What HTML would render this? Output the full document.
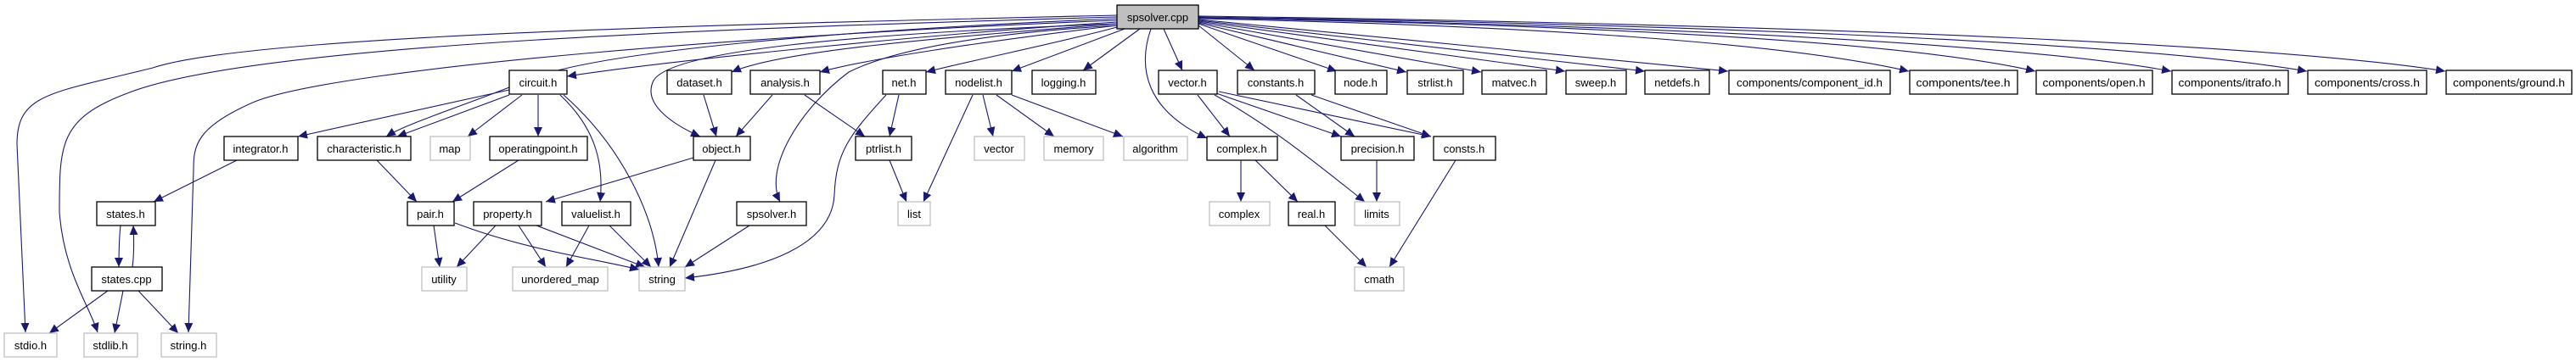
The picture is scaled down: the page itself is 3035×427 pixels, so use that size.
<!DOCTYPE html>
<html><head><meta charset="utf-8"><style>
html,body{margin:0;padding:0;background:#fff;}
svg{display:block}
text{font-family:"Liberation Sans",sans-serif;font-size:13px;fill:#000}
.b{fill:#fff;stroke:#000;stroke-width:1.3}
.g{fill:#fff;stroke:#bfbfbf;stroke-width:1.3}
.e{fill:none;stroke:#191970;stroke-width:1.1;marker-end:url(#a)}
</style></head><body>
<svg width="3035" height="427" viewBox="0 0 3035 427" xmlns="http://www.w3.org/2000/svg">
<defs><marker id="a" markerUnits="userSpaceOnUse" markerWidth="12" markerHeight="10" refX="11" refY="5" orient="auto"><path d="M0,0 L11,5 L0,10 Z" fill="#191970"/></marker></defs>

<!-- edges from spsolver.cpp -->
<path class="e" d="M1316,18 C900,28 300,40 180,80 C60,110 20,110 20,170 L30,392"/>
<path class="e" d="M1316,20 C900,32 300,50 150,110 C70,140 70,170 70,250 C75,320 105,360 115,392"/>
<path class="e" d="M1316,24 C900,40 400,80 300,120 C230,150 228,173 228,200 L222,392"/>
<path class="e" d="M1316,26 C1100,40 800,70 668,90"/>
<path class="e" d="M1316,22 C1000,35 700,60 620,95 C560,120 480,145 455,161"/>
<path class="e" d="M1316,28 C1000,40 790,60 770,95 C755,125 800,150 825,161"/>
<path class="e" d="M1316,28 C1100,45 920,60 862,85"/>
<path class="e" d="M1316,30 C1150,50 1020,70 966,85"/>
<path class="e" d="M1316,30 C1150,40 1050,60 1000,85 C940,130 900,200 919,238"/>
<path class="e" d="M1316,32 C1250,50 1150,70 1091,85"/>
<path class="e" d="M1325,34 L1192,84"/>
<path class="e" d="M1343,34 L1276,83"/>
<path class="e" d="M1356,34 C1340,80 1350,130 1422,163"/>
<path class="e" d="M1371,34 L1393,83"/>
<path class="e" d="M1412,30 L1478,83"/>
<path class="e" d="M1412,28 L1575,84"/>
<path class="e" d="M1412,27 L1657,85"/>
<path class="e" d="M1412,26 L1745,85"/>
<path class="e" d="M1412,25 L1844,84"/>
<path class="e" d="M1412,24 L1938,84"/>
<path class="e" d="M1412,23 L2036,84"/>
<path class="e" d="M1412,22 C1800,30 2100,50 2249,84"/>
<path class="e" d="M1412,21 C1900,30 2250,50 2398,84"/>
<path class="e" d="M1412,21 C2000,30 2400,55 2558,84"/>
<path class="e" d="M1412,20 C2100,30 2550,55 2718,84"/>
<path class="e" d="M1412,19 C2200,30 2700,55 2881,84"/>

<!-- circuit.h -->
<path class="e" d="M600,106 L351,161"/>
<path class="e" d="M600,112 L468,161"/>
<path class="e" d="M615,112 L551,161"/>
<path class="e" d="M634,112 L634,161"/>
<path class="e" d="M660,112 C700,150 712,190 707,238"/>
<path class="e" d="M664,112 C730,170 770,250 776,315"/>

<path class="e" d="M279,189 L181,238"/>
<path class="e" d="M142,266 C140,285 140,300 140,315"/>
<path class="e" d="M156,315 C158,300 158,285 157,266"/>
<path class="e" d="M127,343 L58,393"/>
<path class="e" d="M145,343 L135,393"/>
<path class="e" d="M163,343 L210,393"/>
<path class="e" d="M444,189 L491,238"/>
<path class="e" d="M611,189 L533,238"/>
<path class="e" d="M511,266 L518,315"/>
<path class="e" d="M536,263 C620,295 700,305 753,318"/>
<path class="e" d="M584,266 L538,315"/>
<path class="e" d="M611,266 L643,315"/>
<path class="e" d="M632,266 L760,315"/>
<path class="e" d="M694,266 L667,315"/>
<path class="e" d="M718,266 L767,315"/>
<path class="e" d="M817,186 L643,238"/>
<path class="e" d="M829,112 L844,161"/>
<path class="e" d="M910,112 L867,161"/>
<path class="e" d="M948,112 L1019,161"/>
<path class="e" d="M843,189 L789,315"/>
<path class="e" d="M883,266 L807,315"/>
<path class="e" d="M1044,112 C1000,160 985,180 983,230 C980,290 900,318 807,328"/>
<path class="e" d="M1059,112 L1048,161"/>
<path class="e" d="M1048,189 L1068,238"/>
<path class="e" d="M1146,112 L1088,238"/>
<path class="e" d="M1158,112 L1170,161"/>
<path class="e" d="M1174,112 L1242,161"/>
<path class="e" d="M1192,112 L1323,161"/>
<path class="e" d="M1411,112 L1449,161"/>
<path class="e" d="M1431,112 C1500,150 1560,200 1608,238"/>
<path class="e" d="M1433,110 L1580,161"/>
<path class="e" d="M1436,108 L1686,161"/>
<path class="e" d="M1527,112 L1596,161"/>
<path class="e" d="M1545,112 L1686,161"/>
<path class="e" d="M1462,189 L1462,238"/>
<path class="e" d="M1479,189 L1529,238"/>
<path class="e" d="M1622,189 L1622,238"/>
<path class="e" d="M1561,266 L1610,315"/>
<path class="e" d="M1715,189 L1637,315"/>

<!-- nodes -->
<g>
<rect x="1316" y="6" width="96" height="28" fill="#bfbfbf" stroke="#000" stroke-width="1.3"/><text x="1364" y="25" text-anchor="middle">spsolver.cpp</text>

<rect class="b" x="600" y="83" width="68" height="28"/><text x="634" y="102" text-anchor="middle">circuit.h</text>
<rect class="b" x="786" y="83" width="76" height="28"/><text x="824" y="102" text-anchor="middle">dataset.h</text>
<rect class="b" x="884" y="83" width="82" height="28"/><text x="925" y="102" text-anchor="middle">analysis.h</text>
<rect class="b" x="1040" y="83" width="51" height="28"/><text x="1065" y="102" text-anchor="middle">net.h</text>
<rect class="b" x="1114" y="83" width="78" height="28"/><text x="1153" y="102" text-anchor="middle">nodelist.h</text>
<rect class="b" x="1216" y="83" width="75" height="28"/><text x="1253" y="102" text-anchor="middle">logging.h</text>
<rect class="b" x="1365" y="83" width="69" height="28"/><text x="1399" y="102" text-anchor="middle">vector.h</text>
<rect class="b" x="1458" y="83" width="91" height="28"/><text x="1503" y="102" text-anchor="middle">constants.h</text>
<rect class="b" x="1573" y="83" width="61" height="28"/><text x="1603" y="102" text-anchor="middle">node.h</text>
<rect class="b" x="1658" y="83" width="66" height="28"/><text x="1691" y="102" text-anchor="middle">strlist.h</text>
<rect class="b" x="1746" y="83" width="76" height="28"/><text x="1784" y="102" text-anchor="middle">matvec.h</text>
<rect class="b" x="1845" y="83" width="71" height="28"/><text x="1880" y="102" text-anchor="middle">sweep.h</text>
<rect class="b" x="1938" y="83" width="76" height="28"/><text x="1976" y="102" text-anchor="middle">netdefs.h</text>
<rect class="b" x="2037" y="83" width="190" height="28"/><text x="2132" y="102" text-anchor="middle" textLength="172" lengthAdjust="spacingAndGlyphs">components/component_id.h</text>
<rect class="b" x="2250" y="83" width="127" height="28"/><text x="2313" y="102" text-anchor="middle" textLength="111" lengthAdjust="spacingAndGlyphs">components/tee.h</text>
<rect class="b" x="2399" y="83" width="137" height="28"/><text x="2467" y="102" text-anchor="middle" textLength="121" lengthAdjust="spacingAndGlyphs">components/open.h</text>
<rect class="b" x="2559" y="83" width="137" height="28"/><text x="2627" y="102" text-anchor="middle" textLength="121" lengthAdjust="spacingAndGlyphs">components/itrafo.h</text>
<rect class="b" x="2719" y="83" width="140" height="28"/><text x="2789" y="102" text-anchor="middle" textLength="124" lengthAdjust="spacingAndGlyphs">components/cross.h</text>
<rect class="b" x="2882" y="83" width="148" height="28"/><text x="2956" y="102" text-anchor="middle" textLength="132" lengthAdjust="spacingAndGlyphs">components/ground.h</text>

<rect class="b" x="264" y="161" width="87" height="28"/><text x="307" y="180" text-anchor="middle">integrator.h</text>
<rect class="b" x="374" y="161" width="110" height="28"/><text x="429" y="180" text-anchor="middle">characteristic.h</text>
<rect class="g" x="507" y="161" width="47" height="28"/><text x="530" y="180" text-anchor="middle">map</text>
<rect class="b" x="577" y="161" width="115" height="28"/><text x="634" y="180" text-anchor="middle">operatingpoint.h</text>
<rect class="b" x="817" y="161" width="67" height="28"/><text x="850" y="180" text-anchor="middle">object.h</text>
<rect class="b" x="1008" y="161" width="66" height="28"/><text x="1041" y="180" text-anchor="middle">ptrlist.h</text>
<rect class="g" x="1148" y="161" width="59" height="28"/><text x="1177" y="180" text-anchor="middle">vector</text>
<rect class="g" x="1230" y="161" width="70" height="28"/><text x="1265" y="180" text-anchor="middle">memory</text>
<rect class="g" x="1324" y="161" width="75" height="28"/><text x="1361" y="180" text-anchor="middle">algorithm</text>
<rect class="b" x="1422" y="161" width="83" height="28"/><text x="1463" y="180" text-anchor="middle">complex.h</text>
<rect class="b" x="1580" y="161" width="86" height="28"/><text x="1623" y="180" text-anchor="middle">precision.h</text>
<rect class="b" x="1689" y="161" width="73" height="28"/><text x="1725" y="180" text-anchor="middle">consts.h</text>

<rect class="b" x="114" y="238" width="69" height="28"/><text x="148" y="257" text-anchor="middle">states.h</text>
<rect class="b" x="480" y="238" width="55" height="28"/><text x="507" y="257" text-anchor="middle">pair.h</text>
<rect class="b" x="558" y="238" width="80" height="28"/><text x="598" y="257" text-anchor="middle">property.h</text>
<rect class="b" x="662" y="238" width="81" height="28"/><text x="702" y="257" text-anchor="middle">valuelist.h</text>
<rect class="b" x="868" y="238" width="82" height="28"/><text x="909" y="257" text-anchor="middle">spsolver.h</text>
<rect class="g" x="1058" y="238" width="38" height="28"/><text x="1077" y="257" text-anchor="middle">list</text>
<rect class="g" x="1425" y="238" width="71" height="28"/><text x="1460" y="257" text-anchor="middle">complex</text>
<rect class="b" x="1518" y="238" width="55" height="28"/><text x="1545" y="257" text-anchor="middle">real.h</text>
<rect class="g" x="1596" y="238" width="53" height="28"/><text x="1622" y="257" text-anchor="middle">limits</text>

<rect class="b" x="108" y="315" width="83" height="28"/><text x="149" y="334" text-anchor="middle">states.cpp</text>
<rect class="g" x="497" y="315" width="53" height="28"/><text x="523" y="334" text-anchor="middle">utility</text>
<rect class="g" x="604" y="315" width="112" height="28"/><text x="660" y="334" text-anchor="middle">unordered_map</text>
<rect class="g" x="753" y="315" width="54" height="28"/><text x="780" y="334" text-anchor="middle">string</text>
<rect class="g" x="1596" y="315" width="58" height="28"/><text x="1625" y="334" text-anchor="middle">cmath</text>

<rect class="g" x="5" y="393" width="62" height="28"/><text x="36" y="412" text-anchor="middle">stdio.h</text>
<rect class="g" x="99" y="393" width="63" height="28"/><text x="130" y="412" text-anchor="middle">stdlib.h</text>
<rect class="g" x="190" y="393" width="65" height="28"/><text x="222" y="412" text-anchor="middle">string.h</text>
</g>
</svg>
</body></html>
